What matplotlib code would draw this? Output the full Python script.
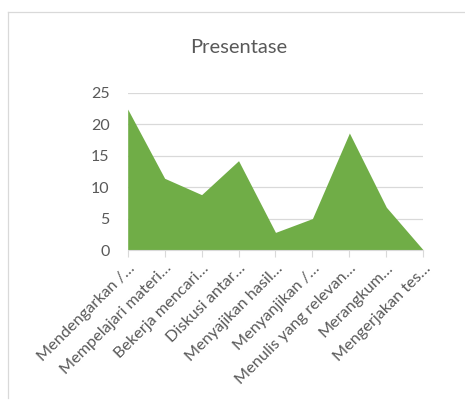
import matplotlib.pyplot as plt
from matplotlib.lines import Line2D

# kegiatan (dipotong seperti di label sumbu)
kegiatan = [
    "Mendengarkan /…",
    "Mempelajari materi…",
    "Bekerja mencari…",
    "Diskusi antar…",
    "Menyajikan hasil…",
    "Menyanjikan /…",
    "Menulis yang relevan…",
    "Merangkum…",
    "Mengerjakan tes…",
]
presentase = [22.4, 11.4, 8.8, 14.2, 2.8, 5.0, 18.6, 6.8, 0.0]
y_ticks = [0, 5, 10, 15, 20, 25]

plt.rcParams["font.family"] = ["Lato", "DejaVu Sans"]
teks = "#595959"
hijau = "#70AD47"

fig = plt.figure(figsize=(4.65, 4.05), dpi=100)
ax = fig.add_axes([0.2746, 0.3827, 0.6357, 0.3883])

x = list(range(len(kegiatan)))
ax.fill_between(x, presentase, 0, color=hijau, linewidth=0, zorder=3)

ax.set_xlim(0, len(kegiatan) - 1)
ax.set_ylim(0, 25)
ax.set_yticks(y_ticks)
ax.set_xticks(x)
ax.set_xticklabels(kegiatan, rotation=45, ha="right", rotation_mode="anchor",
                   fontsize=11.7, color=teks)
ax.tick_params(axis="y", length=0, labelsize=11.5, colors=teks, pad=13)
ax.tick_params(axis="x", length=5, width=0.8, color="#D9D9D9", pad=3)

ax.grid(axis="y", color="#D9D9D9", linewidth=0.9, zorder=0)
for s in ["top", "right", "left"]:
    ax.spines[s].set_visible(False)
ax.spines["bottom"].set_color("#D9D9D9")
ax.spines["bottom"].set_zorder(4)

fig.text(0.513, 0.882, "Presentase", ha="center", va="center", fontsize=14.5, color=teks)

# bingkai area grafik
fig.add_artist(Line2D([8 / 465, 8 / 465], [1 - 12 / 405, 1 - 398 / 405],
                      transform=fig.transFigure, color="#D9D9D9", linewidth=0.9))
fig.add_artist(Line2D([8 / 465, 1.0], [1 - 12 / 405, 1 - 12 / 405],
                      transform=fig.transFigure, color="#D9D9D9", linewidth=0.9))

fig.savefig("out.png", dpi=100)
